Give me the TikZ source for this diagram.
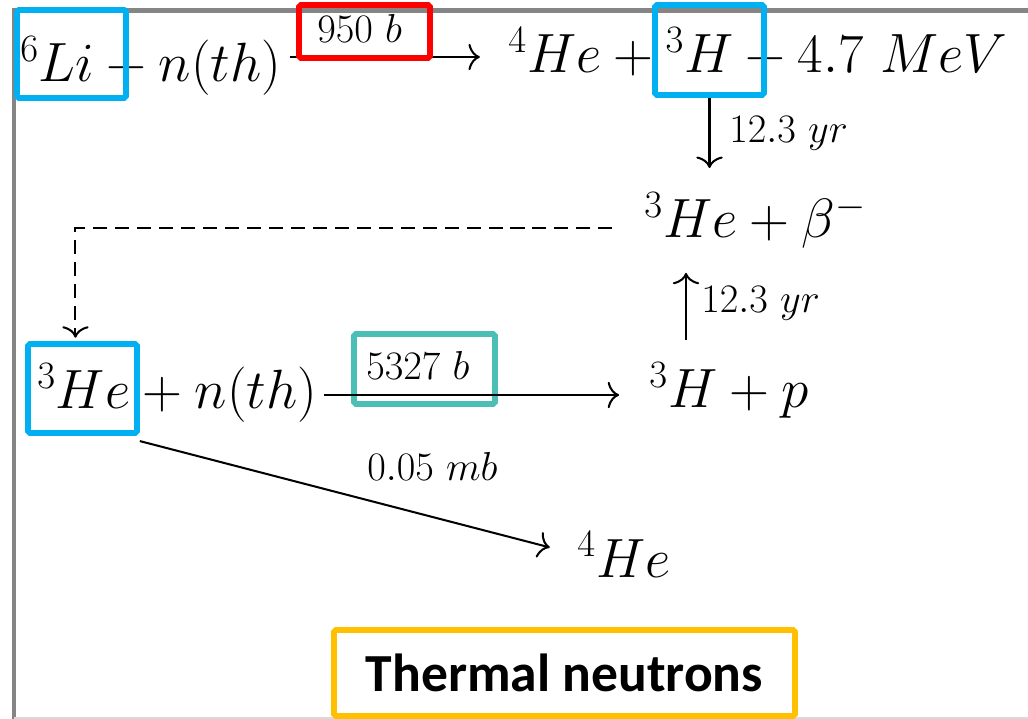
\RequirePackage{fix-cm}
\documentclass[tikz,border=0pt]{standalone}
\usepackage{fontspec}
\newfontfamily\calibrifont{Carlito}
\usetikzlibrary{positioning,arrows.meta}

\definecolor{hlblue}{HTML}{00B0F0}
\definecolor{hlred}{HTML}{FF0000}
\definecolor{hlteal}{HTML}{4BBFB6}
\definecolor{hlorange}{HTML}{FFC000}
\definecolor{framegray}{HTML}{858585}

\begin{document}
\begin{tikzpicture}[
    x=0.02cm, y=-0.02cm,
    formula/.style={inner sep=0pt, anchor=base west, font=\fontsize{31.5}{37}\selectfont},
    rate/.style={inner sep=0pt, anchor=base west, font=\fontsize{23}{27}\selectfont},
    hlbox/.style={draw=#1, line width=3.2pt, rounded corners=1pt, inner sep=0pt},
    arrow/.style={-{To[length=6.5pt,width=15pt]}, line width=1.15pt},
    loop/.style={arrow, dash pattern=on 8pt off 4.5pt}
]

% Frame
\useasboundingbox (0,0) rectangle (1028,719);
\draw[framegray, line width=2.3pt] (14,719) -- (14,10.5) -- (1028,10.5);
\draw[black!15, line width=0.6pt] (14,718) -- (1028,718);

% Lithium capture
\node[formula] (li) at (20,82) {$^6Li + n(th)$};
\node[formula] (he4h3) at (508,73) {$^4He + {}^3H + 4.7\ MeV$};
\node[rate] (xs950) at (317,43) {$950\ b$};
\coordinate (row1) at (0,57);
\draw[arrow, shorten <=5pt, shorten >=16pt] (li.east |- row1) -- (he4h3.west |- row1);

% Tritium decay
\node[formula] (hebeta) at (644,238) {$^3He + \beta^-$};
\node[rate] (t1) at (729,143) {$12.3\ yr$};

% Helium-3 capture
\node[formula] (he3n) at (37,409) {$^3He + n(th)$};
\node[formula] (hp) at (649,408) {$^3H + p$};
\node[rate] (xs5327) at (366,380) {$5327\ b$};
\node[rate] (t2) at (701,313) {$12.3\ yr$};
\node[formula] (he4) at (577,577) {$^4He$};
\node[rate] (xs005) at (367,480) {$0.05\ mb$};

% Highlight boxes
\node[hlbox=hlblue, minimum width=2.18cm, minimum height=1.76cm] (libox) at (71.5,54) {};
\node[hlbox=hlred, minimum width=2.62cm, minimum height=1.06cm] (redbox) at (364.5,31.5) {};
\node[hlbox=hlblue, minimum width=2.18cm, minimum height=1.8cm] (h3box) at (709.5,50) {};
\node[hlbox=hlblue, minimum width=2.18cm, minimum height=1.78cm] (he3box) at (82.5,388.5) {};
\node[hlbox=hlteal, minimum width=2.82cm, minimum height=1.4cm] (tealbox) at (424.5,369) {};
\node[hlbox=hlorange, minimum width=9.22cm, minimum height=1.72cm,
      font=\calibrifont\bfseries\fontsize{30.5}{36}\selectfont] (thermal) at (564.5,673) {Thermal neutrons};

% Arrows
\coordinate (row3) at (0,395);
\coordinate (loopy) at (0,228);
\coordinate (upx) at (686,0);
\draw[arrow, shorten >=14pt] (h3box.south) -- (h3box.south |- hebeta.north);
\draw[arrow, shorten <=13pt, shorten >=13.5pt] (hp.north -| upx) -- (hebeta.south -| upx);
\draw[arrow, shorten <=3.5pt, shorten >=17pt] (he3n.east |- row3) -- (hp.west |- row3);
\draw[loop, shorten <=18pt, shorten >=2pt] (hebeta.west |- loopy) -| ([xshift=-4pt]he3box.north);
\draw[arrow, shorten >=16pt] ([yshift=-3pt]he3box.south east) -- (he4.west);

\end{tikzpicture}
\end{document}
